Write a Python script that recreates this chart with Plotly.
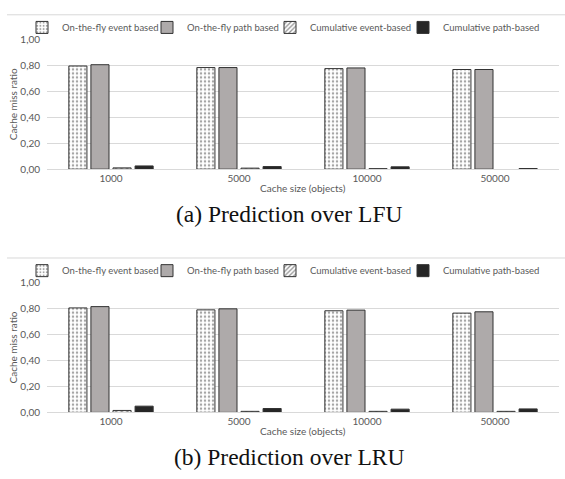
import plotly.graph_objects as go

W, H = 565, 479

cache_sizes = ["1000", "5000", "10000", "50000"]
series_names = ["On-the-fly event based", "On-the-fly path based",
                "Cumulative event-based", "Cumulative path-based"]

# Cache miss ratio, prediction over LFU
lfu_fly_event = [0.795, 0.783, 0.775, 0.768]
lfu_fly_path = [0.805, 0.783, 0.780, 0.768]
lfu_cum_event = [0.010, 0.008, 0.004, 0.0]
lfu_cum_path = [0.025, 0.020, 0.018, 0.005]

# Cache miss ratio, prediction over LRU
lru_fly_event = [0.805, 0.790, 0.783, 0.765]
lru_fly_path = [0.815, 0.798, 0.788, 0.775]
lru_cum_event = [0.015, 0.008, 0.008, 0.008]
lru_cum_path = [0.048, 0.030, 0.025, 0.027]

y_ticks = [0, 0.2, 0.4, 0.6, 0.8, 1.0]

OUTLINE = "#333333"
styles = [
    dict(color="white", pattern=dict(shape=".", fgcolor="#4a4a4a", bgcolor="white", size=4, solidity=0.3)),
    dict(color="#AEAAAA"),
    dict(color="white", pattern=dict(shape="/", fgcolor="#262626", bgcolor="white", size=4, solidity=0.4)),
    dict(color="#262626"),
]


def px_x(p):
    return p / W


def px_y(p):
    return 1 - p / H


fig = go.Figure()

panels = [
    dict(values=[lfu_fly_event, lfu_fly_path, lfu_cum_event, lfu_cum_path],
         xa="x", ya="y", top=33.3, base=166.7, legend_y=21,
         title_y=186, caption="(a) Prediction over LFU", caption_y=213, frame_y=8, legends=[1, 2, 3, 4]),
    dict(values=[lru_fly_event, lru_fly_path, lru_cum_event, lru_cum_path],
         xa="x2", ya="y2", top=283.3, base=416.7, legend_y=271,
         title_y=436, caption="(b) Prediction over LRU", caption_y=463, frame_y=258, legends=[5, 6, 7, 8]),
]

legend_text_x = [62, 187, 310, 443]

layout_extra = {}
annotations = []
shapes = []

for panel in panels:
    for i, (name, vals, st) in enumerate(zip(series_names, panel["values"], styles)):
        lg = panel["legends"][i]
        lg_key = "legend" if lg == 1 else f"legend{lg}"
        # no outline on empty bars, so a zero value leaves no mark
        line_widths = [1 if v > 0 else 0 for v in vals]
        marker = dict(color=st["color"], line=dict(color=OUTLINE, width=line_widths))
        if "pattern" in st:
            marker["pattern"] = st["pattern"]
        fig.add_trace(go.Bar(
            x=cache_sizes, y=vals, name=name, marker=marker,
            xaxis=panel["xa"], yaxis=panel["ya"], legend=lg_key, showlegend=True,
        ))
        layout_extra[lg_key] = dict(
            x=px_x(legend_text_x[i] - 40), y=px_y(panel["legend_y"]),
            xanchor="left", yanchor="middle", orientation="h",
            bgcolor="rgba(0,0,0,0)", borderwidth=0,
            font=dict(family="Lato", size=9.5, color="#595959"),
        )

    ax_suffix = panel["xa"][1:]
    ay_suffix = panel["ya"][1:]
    layout_extra["xaxis" + ax_suffix] = dict(
        domain=[px_x(47), px_x(559)], anchor=panel["ya"], type="category",
        range=[-0.5, 3.5], showgrid=False, showline=True, linecolor="#D9D9D9",
        linewidth=1, ticks="", tickfont=dict(family="Lato", size=10, color="#595959"),
        fixedrange=True, zeroline=False,
    )
    layout_extra["yaxis" + ay_suffix] = dict(
        domain=[px_y(panel["base"]), px_y(panel["top"])], anchor=panel["xa"],
        range=[0, 1.0], tickvals=y_ticks, tickformat=".2f",
        showgrid=True, gridcolor="#D9D9D9", gridwidth=1, zeroline=False,
        showline=False, ticks="", ticklabelstandoff=6,
        tickfont=dict(family="Lato", size=10, color="#595959"),
    )

    annotations.append(dict(
        text="Cache size (objects)", x=px_x(303), y=px_y(panel["title_y"]),
        xref="paper", yref="paper", showarrow=False, xanchor="center", yanchor="middle",
        font=dict(family="Lato", size=10, color="#595959"),
    ))
    annotations.append(dict(
        text="Cache miss ratio", x=px_x(13), y=px_y((panel["top"] + panel["base"]) / 2),
        xref="paper", yref="paper", showarrow=False, textangle=-90,
        xanchor="center", yanchor="middle",
        font=dict(family="Lato", size=10, color="#595959"),
    ))
    annotations.append(dict(
        text=panel["caption"], x=px_x(289), y=px_y(panel["caption_y"]),
        xref="paper", yref="paper", showarrow=False, xanchor="center", yanchor="middle",
        font=dict(family="Liberation Serif", size=23.5, color="#111111"),
    ))
    shapes.append(dict(
        type="line", xref="paper", yref="paper",
        x0=px_x(7), x1=1, y0=px_y(panel["frame_y"]), y1=px_y(panel["frame_y"]),
        line=dict(color="#D9D9D9", width=1),
    ))

fig.update_layout(
    width=W, height=H,
    margin=dict(l=0, r=0, t=0, b=0),
    paper_bgcolor="white", plot_bgcolor="white",
    barmode="group", bargap=0.31, bargroupgap=0.18,
    separators=",.",
    annotations=annotations, shapes=shapes,
    **layout_extra,
)

fig.write_html("out.html")
